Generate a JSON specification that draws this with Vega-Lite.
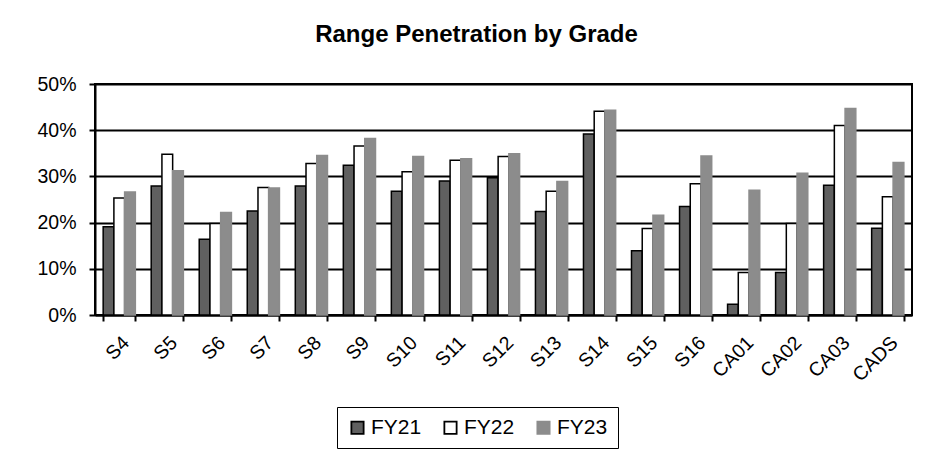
{
  "$schema": "https://vega.github.io/schema/vega-lite/v6.json",
  "autosize": "none",
  "width": 817,
  "height": 231,
  "padding": {"left": 95, "top": 84, "right": 33, "bottom": 142},
  "background": "white",
  "title": {
    "text": "Range Penetration by Grade",
    "font": "Liberation Sans",
    "fontSize": 24,
    "fontWeight": "bold",
    "color": "black",
    "anchor": "middle",
    "baseline": "alphabetic",
    "dx": -27,
    "offset": 8
  },
  "data": {
    "values": [
      {"grade": "S4", "series": "FY21", "value": 0.191}, {"grade": "S4", "series": "FY22", "value": 0.253}, {"grade": "S4", "series": "FY23", "value": 0.266},
      {"grade": "S5", "series": "FY21", "value": 0.279}, {"grade": "S5", "series": "FY22", "value": 0.348}, {"grade": "S5", "series": "FY23", "value": 0.312},
      {"grade": "S6", "series": "FY21", "value": 0.164}, {"grade": "S6", "series": "FY22", "value": 0.198}, {"grade": "S6", "series": "FY23", "value": 0.222},
      {"grade": "S7", "series": "FY21", "value": 0.225}, {"grade": "S7", "series": "FY22", "value": 0.276}, {"grade": "S7", "series": "FY23", "value": 0.275},
      {"grade": "S8", "series": "FY21", "value": 0.279}, {"grade": "S8", "series": "FY22", "value": 0.328}, {"grade": "S8", "series": "FY23", "value": 0.345},
      {"grade": "S9", "series": "FY21", "value": 0.324}, {"grade": "S9", "series": "FY22", "value": 0.366}, {"grade": "S9", "series": "FY23", "value": 0.382},
      {"grade": "S10", "series": "FY21", "value": 0.268}, {"grade": "S10", "series": "FY22", "value": 0.310}, {"grade": "S10", "series": "FY23", "value": 0.343},
      {"grade": "S11", "series": "FY21", "value": 0.290}, {"grade": "S11", "series": "FY22", "value": 0.335}, {"grade": "S11", "series": "FY23", "value": 0.338},
      {"grade": "S12", "series": "FY21", "value": 0.297}, {"grade": "S12", "series": "FY22", "value": 0.343}, {"grade": "S12", "series": "FY23", "value": 0.349},
      {"grade": "S13", "series": "FY21", "value": 0.224}, {"grade": "S13", "series": "FY22", "value": 0.268}, {"grade": "S13", "series": "FY23", "value": 0.289},
      {"grade": "S14", "series": "FY21", "value": 0.392}, {"grade": "S14", "series": "FY22", "value": 0.441}, {"grade": "S14", "series": "FY23", "value": 0.443},
      {"grade": "S15", "series": "FY21", "value": 0.139}, {"grade": "S15", "series": "FY22", "value": 0.187}, {"grade": "S15", "series": "FY23", "value": 0.216},
      {"grade": "S16", "series": "FY21", "value": 0.235}, {"grade": "S16", "series": "FY22", "value": 0.284}, {"grade": "S16", "series": "FY23", "value": 0.344},
      {"grade": "CA01", "series": "FY21", "value": 0.023}, {"grade": "CA01", "series": "FY22", "value": 0.092}, {"grade": "CA01", "series": "FY23", "value": 0.270},
      {"grade": "CA02", "series": "FY21", "value": 0.092}, {"grade": "CA02", "series": "FY22", "value": 0.198}, {"grade": "CA02", "series": "FY23", "value": 0.307},
      {"grade": "CA03", "series": "FY21", "value": 0.281}, {"grade": "CA03", "series": "FY22", "value": 0.410}, {"grade": "CA03", "series": "FY23", "value": 0.447},
      {"grade": "CADS", "series": "FY21", "value": 0.188}, {"grade": "CADS", "series": "FY22", "value": 0.256}, {"grade": "CADS", "series": "FY23", "value": 0.330}
    ]
  },
  "mark": {"type": "bar", "strokeWidth": 1.5},
  "encoding": {
    "x": {
      "field": "grade",
      "type": "nominal",
      "sort": ["S4","S5","S6","S7","S8","S9","S10","S11","S12","S13","S14","S15","S16","CA01","CA02","CA03","CADS"],
      "scale": {"paddingInner": 0.33, "paddingOuter": 0.17},
      "axis": {
        "title": null,
        "labelAngle": -45,
        "labelFont": "Liberation Sans",
        "labelFontSize": 19.5,
        "labelColor": "black",
        "labelPadding": 12,
        "tickBand": "extent",
        "tickColor": "black",
        "tickSize": 6,
        "tickWidth": 2,
        "domainColor": "black",
        "domainWidth": 2
      }
    },
    "xOffset": {
      "field": "series",
      "type": "nominal",
      "scale": {"paddingInner": 0, "paddingOuter": 0}
    },
    "y": {
      "field": "value",
      "type": "quantitative",
      "scale": {"domain": [0, 0.5], "nice": false},
      "axis": {
        "title": null,
        "format": ".0%",
        "values": [0, 0.1, 0.2, 0.3, 0.4, 0.5],
        "labelFont": "Liberation Sans",
        "labelFontSize": 19.5,
        "labelColor": "black",
        "labelPadding": 13,
        "grid": true,
        "gridColor": "black",
        "gridWidth": 1.8,
        "gridOpacity": 1,
        "tickColor": "black",
        "tickSize": 6,
        "tickWidth": 2,
        "domainColor": "black",
        "domainWidth": 2
      }
    },
    "fill": {
      "field": "series",
      "type": "nominal",
      "scale": {"domain": ["FY21","FY22","FY23"], "range": ["#606060", "#ffffff", "#8c8c8c"]},
      "legend": {
        "title": null,
        "orient": "none",
        "direction": "horizontal",
        "legendX": 242,
        "legendY": 323,
        "labelFont": "Liberation Sans",
        "labelFontSize": 21,
        "labelColor": "black",
        "symbolType": "square",
        "symbolSize": 150,
        "symbolStrokeWidth": 1.8,
        "symbolOpacity": 1,
        "labelOffset": 3,
        "columnPadding": 18,
        "padding": 10,
        "strokeColor": "black"
      }
    },
    "stroke": {
      "field": "series",
      "type": "nominal",
      "scale": {"domain": ["FY21","FY22","FY23"], "range": ["#000000", "#000000", "#8c8c8c"]},
      "legend": null
    }
  },
  "config": {
    "view": {"stroke": "black", "strokeWidth": 2},
    "bar": {"fillOpacity": 1}
  }
}
